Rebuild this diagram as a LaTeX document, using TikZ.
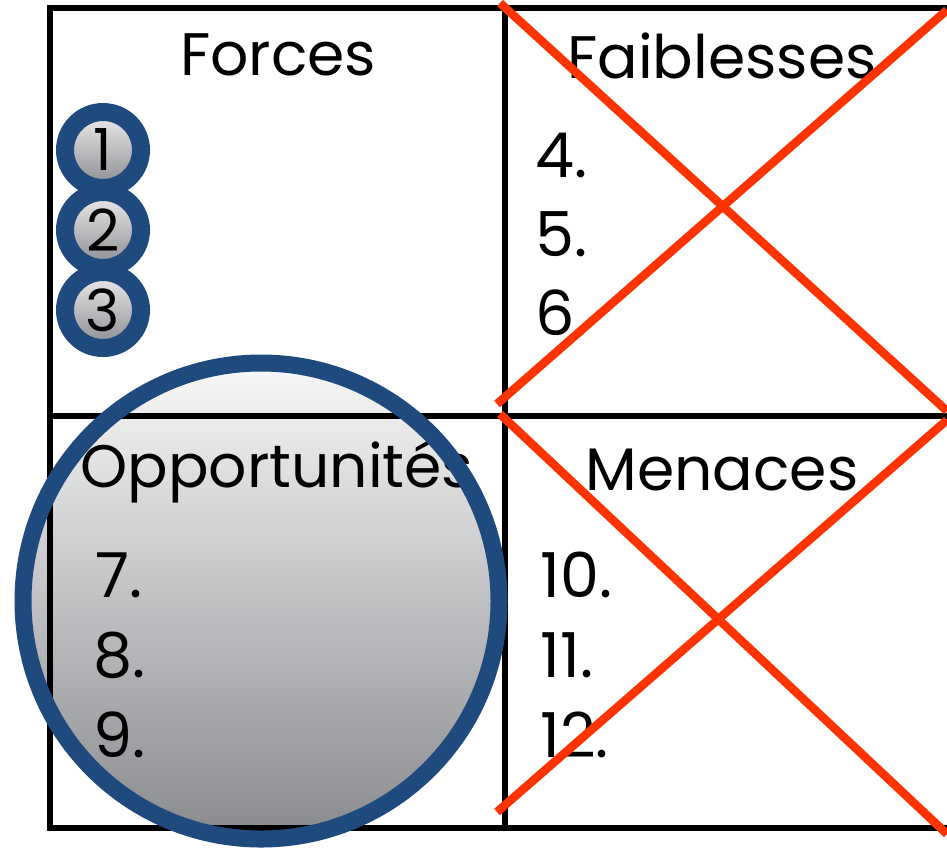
\documentclass[tikz,border=0pt]{standalone}
\usepackage{fontspec}
\setmainfont{Poppins}
\definecolor{ringblue}{RGB}{31,74,126}
\definecolor{crossred}{RGB}{255,51,0}
\definecolor{shadetop}{RGB}{248,248,248}
\definecolor{shademid}{RGB}{200,201,202}
\definecolor{shadebot}{RGB}{136,138,142}
\begin{document}
\begin{tikzpicture}[
    x=0.5pt, y=-0.5pt,
    grid/.style={draw=black, line width=3pt},
    cross/.style={draw=crossred, line width=4.25pt},
    heading/.style={anchor=base, inner sep=0pt, font=\fontsize{30}{36}\selectfont},
    item/.style={anchor=base west, inner sep=0pt, font=\fontsize{31}{36}\selectfont},
    bubble/.style={circle, draw=ringblue, line width=9pt, minimum size=38pt,
        inner sep=0pt, top color=shadetop!80!shademid, bottom color=shadebot,
        font=\fontsize{29}{36}\selectfont},
    bigfill/.style={circle, minimum size=238pt, inner sep=0pt,
        top color=shadetop, middle color=shademid, bottom color=shadebot},
    bigring/.style={circle, draw=ringblue, line width=8.5pt, minimum size=238pt, inner sep=0pt},
]
\useasboundingbox (0,0) rectangle (947,848);

% Fond du grand cercle
\node[bigfill] (opp) at (261,601) {};

% Grille
\coordinate (tl) at (50,8);
\coordinate (br) at (955,828);
\coordinate (mt) at (505,8);
\coordinate (mb) at (505,828);
\coordinate (ml) at (50,416);
\coordinate (mr) at (955,416);
\draw[grid] (tl) rectangle (br);
\draw[grid] (mt) -- (mb);
\draw[grid] (ml) -- (mr);

% Titres
\node[heading] (forces) at (278,75) {Forces};
\node[heading] (faible) at (722,78) {Faiblesses};
\node[heading, anchor=base west] (opport) at (80,487) {Opportunités};
\node[heading] (menace) at (722,490) {Menaces};

% Listes
\node[item] (n4) at (535,177) {4.};
\node[item] (n5) at (535,256) {5.};
\node[item] (n6) at (535,335) {6.};
\node[item] (n7) at (95,597) {7.};
\node[item] (n8) at (93,677) {8.};
\node[item] (n9) at (93,757) {9.};
\node[item] (n10) at (540,597) {10.};
\node[item] (n11) at (540,677) {11.};
\node[item] (n12) at (540,757) {12.};

% Pastilles
\node[bubble] (b1) at (103,150) {1};
\node[bubble] (b2) at (103,230) {2};
\node[bubble] (b3) at (103,310) {3};

% Anneau du grand cercle
\node[bigring] (oppring) at (opp.center) {};

% Croix
\coordinate (x1a) at (500,3);
\coordinate (x1b) at (947,411);
\coordinate (x1c) at (497,404);
\coordinate (x1d) at (947,10);
\coordinate (x2a) at (500,414);
\coordinate (x2b) at (947,834);
\coordinate (x2c) at (497,812);
\coordinate (x2d) at (947,420);
\draw[cross] (x1a) -- (x1b);
\draw[cross] (x1c) -- (x1d);
\draw[cross] (x2a) -- (x2b);
\draw[cross] (x2c) -- (x2d);

\end{tikzpicture}
\end{document}
